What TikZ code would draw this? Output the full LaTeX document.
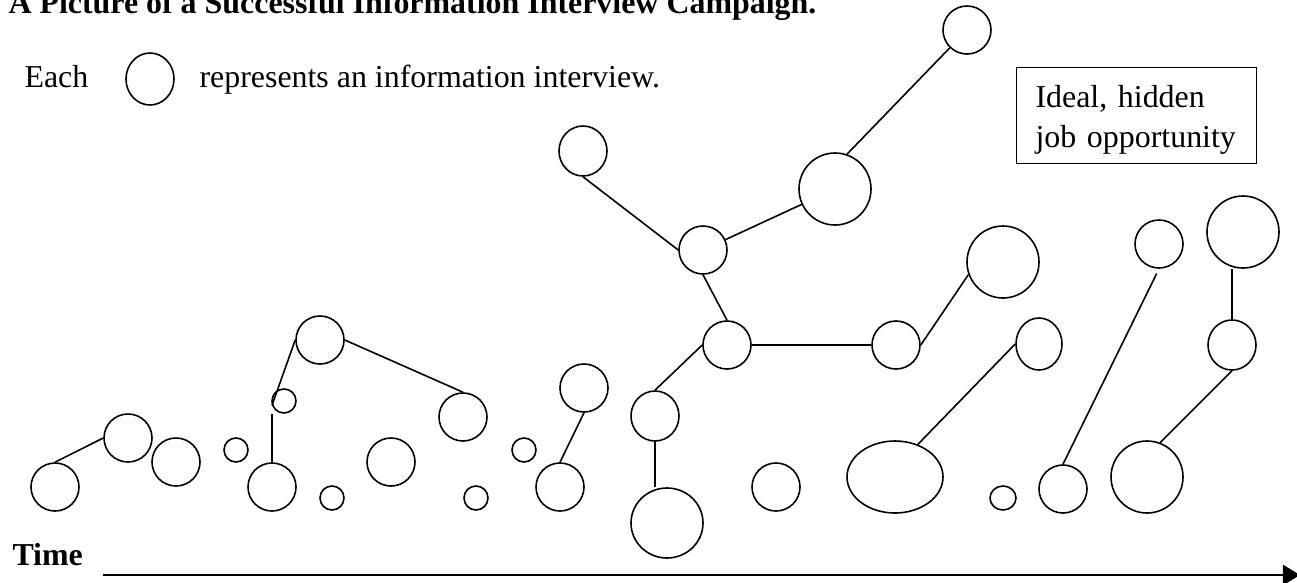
\documentclass[tikz,border=0pt]{standalone}
\usepackage{fontspec}
\setmainfont{Liberation Serif}
\usetikzlibrary{arrows.meta,shapes.geometric}

\begin{document}
\begin{tikzpicture}[x=0.376pt, y=-0.376pt,
    font=\fontsize{12pt}{15pt}\selectfont,
    interview/.style={draw, ellipse, line width=0.6pt, inner sep=0pt},
    caption/.style={anchor=base west, inner sep=0pt},
    link/.style={line width=0.6pt}]
    \useasboundingbox (0,0) rectangle (1297,582);

    % Title and legend
    \node[caption, font=\fontsize{12pt}{15pt}\selectfont\bfseries] (title) at (8,13) {A Picture of a Successful Information Interview Campaign.};
    \node[caption] (each) at (24,87) {Each};
    \node[interview, minimum width=18.05pt, minimum height=19.55pt] (legend) at (150,79) {};
    \node[caption] (represents) at (199,87) {represents an information interview.};

    % Interviews
    \foreach \name/\x/\y/\rx/\ry in {iv1/55/487/24/24, iv2/128/438/24/24, iv3/176/462/24/24,
        iv4/236/450/12/12, iv5/272/487/24/24, iv6/284/401/12/12, iv7/320/340/24/24,
        iv8/332/498/12/12, iv9/391/462/24/24, iv10/463/417/24/24, iv11/476/498/12/12,
        iv12/524/450/12/12, iv13/560/487/24/24, iv14/584/388/24/24, iv15/583/151/24/25,
        iv16/703/250/24/24, iv17/835/189/36/36, iv18/967/30/24/24, iv19/727/345/24/24,
        iv20/655/416/24/25, iv21/667/523/36/35, iv22/896/345/24/24, iv23/1039/344/23/26,
        iv24/776/487/24/24, iv25/895/477/48/36, iv26/1003/498/13/12, iv27/1063/489/24/24,
        iv28/1147/477/36/36, iv29/1232/345/24/25, iv30/1003/262/36/36, iv31/1159/244/24/24,
        iv32/1243/232/36/36} {
        \node[interview, minimum width={2*\rx*0.376pt}, minimum height={2*\ry*0.376pt}] (\name) at (\x,\y) {};
    }

    % Links between interviews
    \draw[link] (iv1.north) -- (iv2.west);
    \draw[link] (iv5.north) -- (iv5.north |- iv6.south);
    \draw[link] (iv6.200) -- (iv7.west);
    \draw[link] (iv7.east) -- (iv10.north);
    \draw[link] (iv13.north) -- (iv14.south);
    \draw[link] (iv15.south) -- (iv16.west);
    \draw[link] (iv16) -- (iv17);
    \draw[link] (iv17.71) -- (iv18);
    \draw[link] (iv16.south) -- (iv19.north);
    \draw[link] (iv19.west) -- (iv20.north);
    \draw[link] (iv20.south) -- (iv20.south |- iv21.north);
    \draw[link] (iv19.east) -- (iv22.west);
    \draw[link] (iv22.east) -- (iv30.200);
    \draw[link] (iv25.55) -- (iv23.west);
    \draw[link, shorten >=2pt] (iv27.north) -- (iv31.south);
    \draw[link] (iv28.69) -- (iv29.south);
    \draw[link] (iv29.north) -- (iv29.north |- iv32.south);

    % Hidden job
    \node[draw, line width=0.5pt, anchor=north west, align=left, text width=76pt,
        inner xsep=7.1pt, inner ysep=0pt, text height=15pt, text depth=21pt] (job) at (1016,67)
        {Ideal, hidden\\job opportunity};

    % Time axis
    \node[caption, font=\fontsize{12pt}{15pt}\selectfont\bfseries] (time) at (12,565) {Time};
    \coordinate (tstart) at (103,575);
    \coordinate (tend) at (1300,575);
    \draw[-{Triangle[length=6.4pt, width=7.5pt]}, line width=1pt] (tstart) -- (tend);
\end{tikzpicture}
\end{document}
